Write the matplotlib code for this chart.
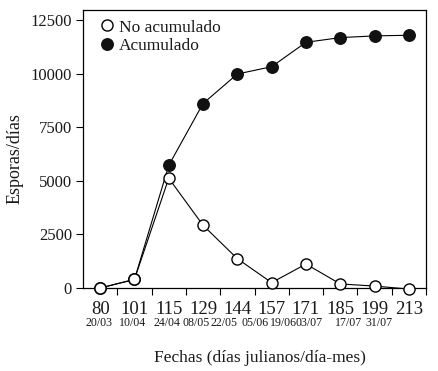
import matplotlib
matplotlib.use("Agg")
import matplotlib.pyplot as plt
import matplotlib.transforms as mtransforms

# julian days (categories) and dates
dias = ["80", "101", "115", "129", "144", "157", "171", "185", "199", "213"]
fechas = ["20/03", "10/04", "24/04", "08/05", "22/05", "05/06", "19/06", "03/07", "17/07", "31/07"]

# spores per day
no_acumulado = [0, 400, 5130, 2930, 1370, 250, 1120, 190, 90, -50]
acumulado = [0, 400, 5730, 8620, 10000, 10340, 11480, 11700, 11780, 11810]

# where the small date labels sit (in category units, as in the original)
fechas_x = [-0.04, 0.94, 1.94, 2.79, 3.62, 4.52, 5.35, 6.1, 7.23, 8.13]

plt.rcParams['font.family'] = ['Liberation Serif', 'DejaVu Serif']
txt_color = "#1a1a1a"

fig = plt.figure(figsize=(4.38, 3.71), dpi=100)
ax = fig.add_axes([83 / 438, 1 - 288 / 371, 343 / 438, 278 / 371])

x = list(range(len(dias)))

ax.plot(x, acumulado, color="black", lw=0.8, marker="o", ms=8.3,
        mfc="#111111", mec="#111111", mew=1, clip_on=False, zorder=3,
        label="Acumulado")
ax.plot(x, no_acumulado, color="black", lw=0.8, marker="o", ms=8,
        mfc="white", mec="black", mew=1, clip_on=False, zorder=4,
        label="No acumulado")

ax.set_xlim(-0.5, 9.5)
ax.set_ylim(0, 12990)

# x axis: labels at categories, tick marks between them
ax.set_xticks(x)
ax.set_xticklabels(dias, fontsize=13.5, color=txt_color)
ax.set_xticks([i + 0.5 for i in x], minor=True)
ax.tick_params(axis="x", which="major", length=0, pad=9)
ax.tick_params(axis="x", which="minor", length=5, width=0.8, direction="out")

ax.set_yticks([0, 2500, 5000, 7500, 10000, 12500])
ax.tick_params(axis="y", length=5, width=0.8, direction="out", pad=3,
               labelsize=12, labelcolor=txt_color)

for s in ax.spines.values():
    s.set_linewidth(0.9)

trans = mtransforms.blended_transform_factory(ax.transData, ax.transAxes)
for fx, f in zip(fechas_x, fechas):
    ax.text(fx, -0.126, f, transform=trans, ha="center", va="center",
            fontsize=8.6, color=txt_color)

ax.set_xlabel("Fechas (días julianos/día-mes)", fontsize=12.5, color=txt_color)
ax.xaxis.label.set_va("center")
ax.xaxis.set_label_coords(0.516, -0.252)
ax.set_ylabel("Esporas/días", fontsize=13, color=txt_color)
ax.yaxis.label.set_va("center")
ax.yaxis.set_label_coords(-0.198, 0.464)

handles, labels = ax.get_legend_handles_labels()
leg = ax.legend(handles[::-1], labels[::-1], loc="upper left",
                bbox_to_anchor=(0.02, 1.01), frameon=False, fontsize=12.5,
                handlelength=0.6, handletextpad=0.35, labelspacing=0.15,
                borderpad=0.2)
for h in leg.legend_handles:
    h.set_linestyle("None")
for t in leg.get_texts():
    t.set_color(txt_color)

fig.savefig("out.png", dpi=100)
